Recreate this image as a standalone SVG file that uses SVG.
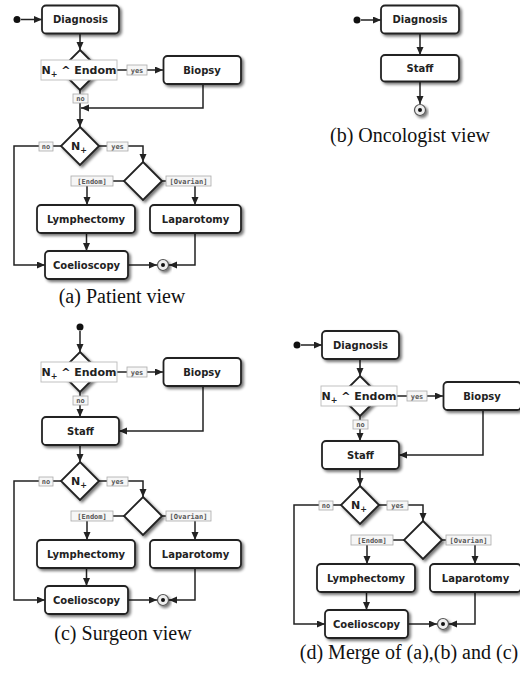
<svg xmlns="http://www.w3.org/2000/svg" width="520" height="674" viewBox="0 0 520 674">
<defs>
<filter id="sh" x="-20%" y="-20%" width="150%" height="160%">
<feGaussianBlur in="SourceAlpha" stdDeviation="1.6"/>
<feOffset dx="1.5" dy="2" result="b"/>
<feComponentTransfer><feFuncA type="linear" slope="0.55"/></feComponentTransfer>
<feMerge><feMergeNode/><feMergeNode in="SourceGraphic"/></feMerge>
</filter>
<marker id="ar" markerUnits="userSpaceOnUse" markerWidth="9" markerHeight="8" refX="8" refY="3.5" orient="auto">
<path d="M0,0 L8,3.5 L0,7 z" fill="#222"/>
</marker>
</defs>
<style>
.box{fill:#fff;stroke:#222;stroke-width:1.8;filter:url(#sh)}
.dia{fill:#fff;stroke:#222;stroke-width:1.8;filter:url(#sh)}
.lbl{fill:#fff;stroke:#bbb;stroke-width:0.9}
.t{font-family:"DejaVu Sans",Verdana,sans-serif;font-weight:bold;font-size:10px;fill:#222;text-anchor:middle}
.td{font-family:"DejaVu Sans",Verdana,sans-serif;font-weight:bold;font-size:11px;fill:#222;text-anchor:middle}
.el{fill:#f6f6f6;stroke:#aaa;stroke-width:0.8}
.et{font-family:"DejaVu Sans Mono",monospace;font-weight:bold;font-size:7px;fill:#555;text-anchor:middle}
.c{fill:none;stroke:#222;stroke-width:1.5}
.ca{fill:none;stroke:#222;stroke-width:1.5;marker-end:url(#ar)}
.start{fill:#111}
.fin{fill:#eee;stroke:#555;stroke-width:1.2;filter:url(#sh)}
.cap{font-family:"Liberation Serif","Times New Roman",serif;font-size:20px;fill:#111;text-anchor:middle}
</style>

<!-- ===== Panel (a) ===== -->
<g id="panel-a">
<g id="a-connectors">
<path class="ca" d="M21,19.5 H42"/>
<path class="ca" d="M80,33.5 V50"/>
<path class="ca" d="M117,70 H163"/>
<path class="ca" d="M80,90 V127"/>
<path class="ca" d="M203,84 V108 H81"/>
<path class="ca" d="M61,146 H14 V265 H45"/>
<path class="ca" d="M99,146 H143 V162"/>
<path class="ca" d="M124,181 H87 V205"/>
<path class="ca" d="M162,181 H195 V205"/>
<path class="ca" d="M86.5,233 V251"/>
<path class="ca" d="M128,265 H157"/>
<path class="ca" d="M195,233 V265 H169"/>
<rect class="el" x="127" y="65" width="20" height="10"/><text class="et" x="137" y="72.5">yes</text>
<rect class="el" x="73" y="94" width="15" height="9"/><text class="et" x="80.5" y="101">no</text>
<rect class="el" x="39" y="142" width="14" height="9"/><text class="et" x="46" y="149">no</text>
<rect class="el" x="107" y="142" width="21" height="9"/><text class="et" x="117.5" y="149">yes</text>
<rect class="el" x="71" y="176" width="42" height="10"/><text class="et" x="92" y="183.5">[Endom]</text>
<rect class="el" x="166" y="176" width="45" height="10"/><text class="et" x="188.5" y="183.5">[Ovarian]</text>
</g>
<g id="a-start"><circle class="start" cx="17" cy="19.5" r="3.5"/></g>
<g id="a-diagnosis"><rect class="box" x="42" y="5.5" width="77" height="28" rx="4"/><text class="t" x="80.5" y="23">Diagnosis</text></g>
<g id="a-dec1"><polygon class="dia" points="80,50 100,70 80,90 60,70"/><rect class="lbl" x="41" y="60" width="76" height="20"/><text class="td" x="79" y="74">N<tspan font-size="8" dy="3">+</tspan><tspan dy="-3"> ^ Endom</tspan></text></g>
<g id="a-biopsy"><rect class="box" x="163.5" y="56" width="77.5" height="28" rx="4"/><text class="t" x="202" y="73.5">Biopsy</text></g>
<g id="a-dec2"><polygon class="dia" points="80,127 99,146 80,165 61,146"/><text class="td" x="79" y="150">N<tspan font-size="8" dy="3">+</tspan></text></g>
<g id="a-dec3"><polygon class="dia" points="143,162 162,181 143,200 124,181"/></g>
<g id="a-lymphectomy"><rect class="box" x="37" y="205" width="98" height="28" rx="4"/><text class="t" x="86" y="222.5">Lymphectomy</text></g>
<g id="a-laparotomy"><rect class="box" x="150" y="205" width="91" height="28" rx="4"/><text class="t" x="195.5" y="222.5">Laparotomy</text></g>
<g id="a-coelioscopy"><rect class="box" x="45" y="251" width="83" height="28" rx="4"/><text class="t" x="86.5" y="268.5">Coelioscopy</text></g>
<g id="a-final"><circle class="fin" cx="163" cy="265" r="5.5"/><circle cx="163" cy="265" r="2" fill="#111"/></g>
<text class="cap" x="122" y="303">(a) Patient view</text>
</g>

<!-- ===== Panel (b) ===== -->
<g id="panel-b">
<g id="b-connectors">
<path class="ca" d="M361,20 H381"/>
<path class="ca" d="M420,33.5 V55"/>
<path class="ca" d="M420,81.5 V104"/>
</g>
<g id="b-start"><circle class="start" cx="357" cy="20" r="3.5"/></g>
<g id="b-diagnosis"><rect class="box" x="381" y="5.5" width="78" height="28" rx="4"/><text class="t" x="420" y="23">Diagnosis</text></g>
<g id="b-staff"><rect class="box" x="381" y="55" width="78" height="26.5" rx="4"/><text class="t" x="420" y="71.5">Staff</text></g>
<g id="b-final"><circle class="fin" cx="420" cy="110" r="5.5"/><circle cx="420" cy="110" r="2" fill="#111"/></g>
<text class="cap" x="410" y="142">(b) Oncologist view</text>
</g>

<!-- ===== Panel (c) ===== -->
<g id="panel-c">
<g id="c-connectors">
<path class="ca" d="M80,331 V352"/>
<path class="ca" d="M117,372 H163"/>
<path class="ca" d="M80,392 V417"/>
<path class="ca" d="M203,386 V431 H119"/>
<path class="ca" d="M80,445 V462"/>
<path class="ca" d="M61,481 H14 V600 H45"/>
<path class="ca" d="M99,481 H143 V497"/>
<path class="ca" d="M124,516 H87 V540"/>
<path class="ca" d="M162,516 H195 V540"/>
<path class="ca" d="M86.5,568 V586"/>
<path class="ca" d="M128,600 H157"/>
<path class="ca" d="M195,568 V600 H169"/>
<rect class="el" x="127" y="367" width="20" height="10"/><text class="et" x="137" y="374.5">yes</text>
<rect class="el" x="73" y="396" width="15" height="9"/><text class="et" x="80.5" y="403">no</text>
<rect class="el" x="39" y="477" width="14" height="9"/><text class="et" x="46" y="484">no</text>
<rect class="el" x="107" y="477" width="21" height="9"/><text class="et" x="117.5" y="484">yes</text>
<rect class="el" x="71" y="511" width="42" height="10"/><text class="et" x="92" y="518.5">[Endom]</text>
<rect class="el" x="166" y="511" width="45" height="10"/><text class="et" x="188.5" y="518.5">[Ovarian]</text>
</g>
<g id="c-start"><circle class="start" cx="80" cy="327" r="3.5"/></g>
<g id="c-dec1"><polygon class="dia" points="80,352 100,372 80,392 60,372"/><rect class="lbl" x="41" y="362" width="76" height="20"/><text class="td" x="79" y="376">N<tspan font-size="8" dy="3">+</tspan><tspan dy="-3"> ^ Endom</tspan></text></g>
<g id="c-biopsy"><rect class="box" x="163.5" y="358" width="77.5" height="28" rx="4"/><text class="t" x="202" y="375.5">Biopsy</text></g>
<g id="c-staff"><rect class="box" x="42" y="417" width="77" height="28" rx="4"/><text class="t" x="80.5" y="434.5">Staff</text></g>
<g id="c-dec2"><polygon class="dia" points="80,462 99,481 80,500 61,481"/><text class="td" x="79" y="485">N<tspan font-size="8" dy="3">+</tspan></text></g>
<g id="c-dec3"><polygon class="dia" points="143,497 162,516 143,535 124,516"/></g>
<g id="c-lymphectomy"><rect class="box" x="37" y="540" width="98" height="28" rx="4"/><text class="t" x="86" y="557.5">Lymphectomy</text></g>
<g id="c-laparotomy"><rect class="box" x="150" y="540" width="91" height="28" rx="4"/><text class="t" x="195.5" y="557.5">Laparotomy</text></g>
<g id="c-coelioscopy"><rect class="box" x="45" y="586" width="83" height="28" rx="4"/><text class="t" x="86.5" y="603.5">Coelioscopy</text></g>
<g id="c-final"><circle class="fin" cx="163" cy="600" r="5.5"/><circle cx="163" cy="600" r="2" fill="#111"/></g>
<text class="cap" x="123" y="640">(c) Surgeon view</text>
</g>

<!-- ===== Panel (d) ===== -->
<g id="panel-d" transform="translate(280,24)">
<g id="d-connectors">
<path class="ca" d="M21,321 H42"/>
<path class="ca" d="M80,335 V352"/>
<path class="ca" d="M117,372 H163"/>
<path class="ca" d="M80,392 V417"/>
<path class="ca" d="M203,386 V431 H119"/>
<path class="ca" d="M80,445 V462"/>
<path class="ca" d="M61,481 H14 V600 H45"/>
<path class="ca" d="M99,481 H143 V497"/>
<path class="ca" d="M124,516 H87 V540"/>
<path class="ca" d="M162,516 H195 V540"/>
<path class="ca" d="M86.5,568 V586"/>
<path class="ca" d="M128,600 H157"/>
<path class="ca" d="M195,568 V600 H169"/>
<rect class="el" x="127" y="367" width="20" height="10"/><text class="et" x="137" y="374.5">yes</text>
<rect class="el" x="73" y="396" width="15" height="9"/><text class="et" x="80.5" y="403">no</text>
<rect class="el" x="39" y="477" width="14" height="9"/><text class="et" x="46" y="484">no</text>
<rect class="el" x="107" y="477" width="21" height="9"/><text class="et" x="117.5" y="484">yes</text>
<rect class="el" x="71" y="511" width="42" height="10"/><text class="et" x="92" y="518.5">[Endom]</text>
<rect class="el" x="166" y="511" width="45" height="10"/><text class="et" x="188.5" y="518.5">[Ovarian]</text>
</g>
<g id="d-start"><circle class="start" cx="17" cy="321" r="3.5"/></g>
<g id="d-diagnosis"><rect class="box" x="42" y="307" width="77" height="28" rx="4"/><text class="t" x="80.5" y="324.5">Diagnosis</text></g>
<g id="d-dec1"><polygon class="dia" points="80,352 100,372 80,392 60,372"/><rect class="lbl" x="41" y="362" width="76" height="20"/><text class="td" x="79" y="376">N<tspan font-size="8" dy="3">+</tspan><tspan dy="-3"> ^ Endom</tspan></text></g>
<g id="d-biopsy"><rect class="box" x="163.5" y="358" width="77.5" height="28" rx="4"/><text class="t" x="202" y="375.5">Biopsy</text></g>
<g id="d-staff"><rect class="box" x="42" y="417" width="77" height="28" rx="4"/><text class="t" x="80.5" y="434.5">Staff</text></g>
<g id="d-dec2"><polygon class="dia" points="80,462 99,481 80,500 61,481"/><text class="td" x="79" y="485">N<tspan font-size="8" dy="3">+</tspan></text></g>
<g id="d-dec3"><polygon class="dia" points="143,497 162,516 143,535 124,516"/></g>
<g id="d-lymphectomy"><rect class="box" x="37" y="540" width="98" height="28" rx="4"/><text class="t" x="86" y="557.5">Lymphectomy</text></g>
<g id="d-laparotomy"><rect class="box" x="150" y="540" width="91" height="28" rx="4"/><text class="t" x="195.5" y="557.5">Laparotomy</text></g>
<g id="d-coelioscopy"><rect class="box" x="45" y="586" width="83" height="28" rx="4"/><text class="t" x="86.5" y="603.5">Coelioscopy</text></g>
<g id="d-final"><circle class="fin" cx="163" cy="600" r="5.5"/><circle cx="163" cy="600" r="2" fill="#111"/></g>
</g>
<text class="cap" x="409" y="659">(d) Merge of (a),(b) and (c)</text>
</svg>
